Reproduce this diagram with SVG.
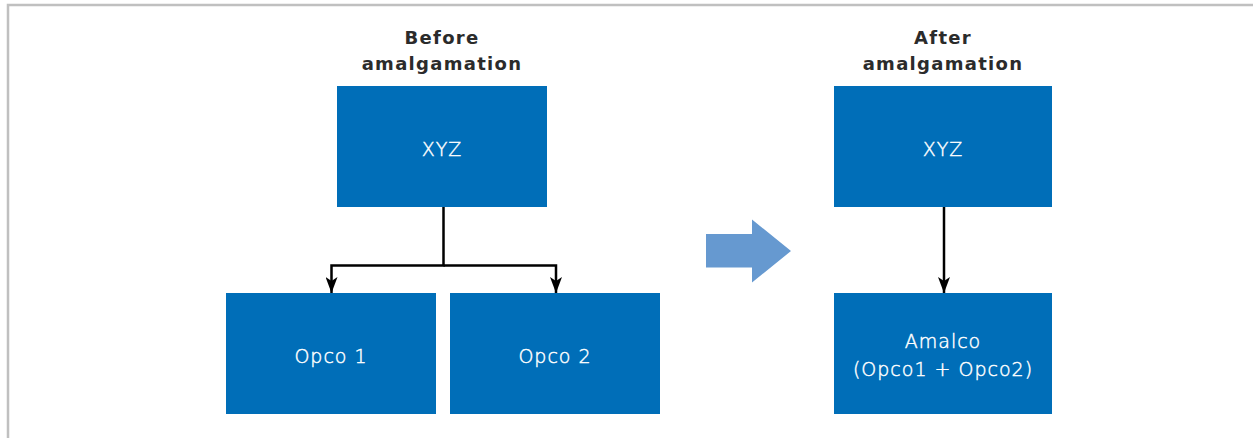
<svg xmlns="http://www.w3.org/2000/svg" width="1253" height="438" viewBox="0 0 1253 438">
  <defs>
    <style>
      .box { fill: #006eb8; }
      .label { fill: #ffffff; stroke: #ffffff; stroke-width: 0.45px; font-family: "DejaVu Sans", sans-serif; font-weight: 200; font-size: 19px; letter-spacing: 1px; text-anchor: middle; }
      .title { fill: #2b2b2b; font-family: "DejaVu Sans", sans-serif; font-weight: bold; font-size: 18px; letter-spacing: 1.3px; text-anchor: middle; }
      .link { fill: none; stroke: #000000; stroke-width: 2.5; }
    </style>
    <!-- barbed arrowhead, tip at the end of the path -->
    <marker id="arrowhead" markerUnits="userSpaceOnUse" markerWidth="16" markerHeight="12" refX="16" refY="6" orient="auto" viewBox="0 0 16 12">
      <path d="M0,0 L4,6 L0,12 L16,6 Z" fill="#000000"/>
    </marker>
  </defs>

  <rect width="1253" height="438" fill="#ffffff"/>

  <!-- frame -->
  <path d="M8,438 L8,5 L1253,5" fill="none" stroke="#c0c0c0" stroke-width="2.5"/>

  <!-- headings -->
  <text class="title" x="442" y="44">Before</text>
  <text class="title" x="442" y="70">amalgamation</text>
  <text class="title" x="943" y="44">After</text>
  <text class="title" x="943" y="70">amalgamation</text>

  <!-- connectors -->
  <g id="connectors">
    <path class="link" d="M443.5,207 L443.5,265.5 L331.5,265.5 L331.5,293" marker-end="url(#arrowhead)"/>
    <path class="link" d="M443.5,265.5 L556,265.5 L556,293" marker-end="url(#arrowhead)"/>
    <path class="link" d="M944,207 L944,293" marker-end="url(#arrowhead)"/>
  </g>

  <!-- transition arrow -->
  <path d="M706,234 L752,234 L752,219.5 L791,251 L752,282.5 L752,267.5 L706,267.5 Z" fill="#6699d0"/>

  <g id="xyz-before">
    <rect class="box" x="337" y="86" width="210" height="121"/>
    <text class="label" x="442" y="156">XYZ</text>
  </g>
  <g id="opco1">
    <rect class="box" x="226" y="293" width="210" height="121"/>
    <text class="label" x="331" y="363">Opco 1</text>
  </g>
  <g id="opco2">
    <rect class="box" x="450" y="293" width="210" height="121"/>
    <text class="label" x="555" y="363">Opco 2</text>
  </g>
  <g id="xyz-after">
    <rect class="box" x="834" y="86" width="218" height="121"/>
    <text class="label" x="943" y="156">XYZ</text>
  </g>
  <g id="amalco">
    <rect class="box" x="834" y="293" width="218" height="121"/>
    <text class="label" x="943" y="348">Amalco</text>
    <text class="label" x="943" y="376">(Opco1 + Opco2)</text>
  </g>
</svg>
